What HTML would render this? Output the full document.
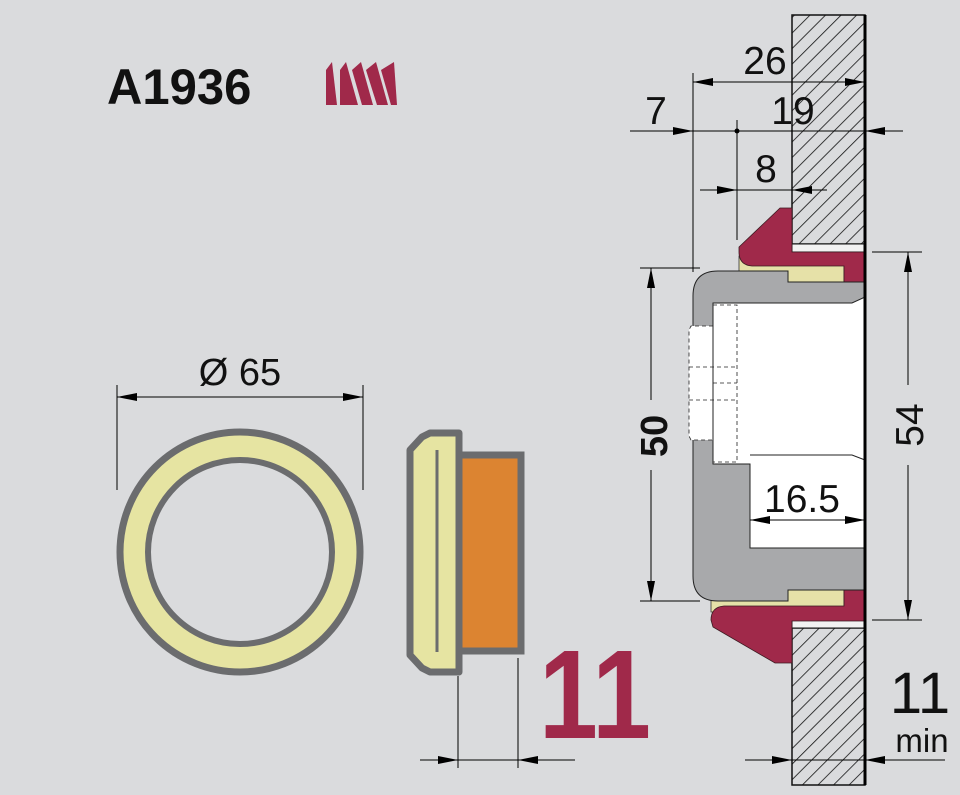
<!DOCTYPE html>
<html><head><meta charset="utf-8"><style>
html,body{margin:0;padding:0;background:#dadbdd;}
svg{display:block}
text{font-family:"Liberation Sans",sans-serif;fill:#111}
</style></head><body>
<svg width="960" height="795" viewBox="0 0 960 795" xmlns="http://www.w3.org/2000/svg">
<defs>
<pattern id="h" patternUnits="userSpaceOnUse" width="11" height="11" patternTransform="rotate(45)">
<rect width="11" height="11" fill="#dadbdd"/><line x1="0" y1="0" x2="0" y2="11" stroke="#111" stroke-width="1.6"/>
</pattern>
<marker id="a" viewBox="0 0 20 8" refX="20" refY="4" markerWidth="20" markerHeight="8" markerUnits="userSpaceOnUse" orient="auto"><path d="M0,0L20,4L0,8z" fill="#000"/></marker>
</defs>
<rect width="960" height="795" fill="#dadbdd"/>

<!-- title -->
<text x="0" y="104" font-size="50" font-weight="bold" transform="translate(107,0) scale(0.98,1)">A1936</text>
<g fill="#a0294a">
<polygon points="326,105 326,70 332,62 337,105"/>
<polygon points="340,105 340,70 346,62 358,105 "/>
<polygon points="352,70 361,62 373,105 362,105"/>
<polygon points="366,70 376,62 388,105 377,105"/>
<polygon points="381,70 394,62 397,105 391,105"/>
</g>

<!-- ring -->
<circle cx="240" cy="552" r="120" fill="#e6e4a2" stroke="#6b6c6e" stroke-width="7"/>
<circle cx="240" cy="552" r="92" fill="#dadbdd" stroke="#6b6c6e" stroke-width="6"/>
<line x1="117" y1="385" x2="117" y2="490" stroke="#000" stroke-width="1"/>
<line x1="363" y1="385" x2="363" y2="490" stroke="#000" stroke-width="1"/>
<line x1="240" y1="397" x2="117" y2="397" stroke="#000" marker-end="url(#a)"/>
<line x1="240" y1="397" x2="363" y2="397" stroke="#000" marker-end="url(#a)"/>
<text x="240" y="385" font-size="38" text-anchor="middle">Ø 65</text>

<!-- profile -->
<rect x="459" y="455" width="62" height="196" fill="#dc8431" stroke="#6b6c6e" stroke-width="7"/>
<path d="M430,433 L459,433 L459,672 L430,672 L422,668 L410,655 L410,450 L422,437 Z" fill="#e6e4a2" stroke="#6b6c6e" stroke-width="7" stroke-linejoin="round"/>
<line x1="437" y1="450" x2="437" y2="652" stroke="#6b6c6e" stroke-width="3"/>
<line x1="458" y1="676" x2="458" y2="768" stroke="#000"/>
<line x1="518" y1="658" x2="518" y2="768" stroke="#000"/>
<line x1="420" y1="760" x2="458" y2="760" stroke="#000" marker-end="url(#a)"/>
<line x1="458" y1="760" x2="518" y2="760" stroke="#000"/>
<line x1="575" y1="760" x2="518" y2="760" stroke="#000" marker-end="url(#a)"/>
<text x="0" y="738" font-size="126" font-weight="bold" text-anchor="middle" style="fill:#a0294a" transform="translate(595,0) scale(0.84,1)">11</text>

<!-- walls -->
<rect x="792" y="15" width="73" height="229" fill="url(#h)" stroke="#111" stroke-width="1.5"/>
<rect x="792" y="628" width="73" height="157" fill="url(#h)" stroke="#111" stroke-width="1.5"/>
<rect x="792" y="244" width="73" height="8" fill="#f2f2f2" stroke="#111" stroke-width="1"/>
<rect x="792" y="620" width="73" height="8" fill="#f2f2f2" stroke="#111" stroke-width="1"/>

<!-- beige -->
<path d="M739,256 L739,272 L788,272 L788,284 L844,284 L844,262 Z" fill="#e6e1a8" stroke="#333" stroke-width="0.8"/>
<path d="M711,612 L711,598 L788,598 L788,588 L844,588 L844,612 Z" fill="#e6e1a8" stroke="#333" stroke-width="0.8"/>
<!-- red seals -->
<path d="M780,208 L792,208 L792,252 L865,252 L865,282 L844,282 L844,266 L752,266 Q739,265 739,252 L739,247 Z" fill="#a0294a" stroke="#3a1a20" stroke-width="0.8"/>
<path d="M775,663 L792,663 L792,621 L865,621 L865,590 L844,590 L844,606 L724,606 Q711,607 711,620 L713,627 Z" fill="#a0294a" stroke="#3a1a20" stroke-width="0.8"/>

<!-- grey body -->
<path d="M718,271 L788,271 L788,282 L865,282 L865,590 L788,590 L788,601 L718,601 Q693,601 693,576 L693,296 Q693,271 718,271 Z" fill="#a8a9ab" stroke="#222" stroke-width="1"/>
<path d="M713,303 L852,303 L865,297 L865,548 L750,548 L750,464 L713,464 Z" fill="#fff" stroke="#222" stroke-width="1"/>
<path d="M750,455 L852,455 L865,460" fill="none" stroke="#222" stroke-width="1"/>
<path d="M713,326 L691,326 L689,330 L689,436 L691,440 L713,440 Z" fill="#fff" stroke="#222" stroke-width="0.8" stroke-dasharray="4,3"/>
<line x1="713" y1="326" x2="713" y2="440" stroke="#222" stroke-width="1"/>
<rect x="713" y="305" width="24" height="157" fill="none" stroke="#222" stroke-width="0.8" stroke-dasharray="4,3"/>
<g stroke="#222" stroke-width="0.8" stroke-dasharray="4,3"><line x1="689" y1="367" x2="737" y2="367"/><line x1="713" y1="383" x2="737" y2="383"/><line x1="689" y1="400" x2="737" y2="400"/></g>
<line x1="865" y1="15" x2="865" y2="785" stroke="#000" stroke-width="3"/>

<!-- dims -->
<g stroke="#000" stroke-width="1" fill="none">
<line x1="693" y1="73" x2="693" y2="272"/>
<line x1="737" y1="120" x2="737" y2="240"/>
<line x1="780" y1="82" x2="693" y2="82" marker-end="url(#a)"/>
<line x1="780" y1="82" x2="865" y2="82" marker-end="url(#a)"/>
<line x1="630" y1="131" x2="693" y2="131" marker-end="url(#a)"/>
<line x1="693" y1="131" x2="865" y2="131"/>
<line x1="903" y1="131" x2="865" y2="131" marker-end="url(#a)"/>
<line x1="700" y1="190" x2="737" y2="190" marker-end="url(#a)"/>
<line x1="737" y1="190" x2="792" y2="190"/>
<line x1="827" y1="190" x2="792" y2="190" marker-end="url(#a)"/>
<line x1="640" y1="268" x2="700" y2="268"/>
<line x1="640" y1="601" x2="700" y2="601"/>
<line x1="651" y1="400" x2="651" y2="268" marker-end="url(#a)"/>
<line x1="651" y1="470" x2="651" y2="601" marker-end="url(#a)"/>
<line x1="872" y1="252" x2="922" y2="252"/>
<line x1="872" y1="620" x2="922" y2="620"/>
<line x1="908" y1="385" x2="908" y2="252" marker-end="url(#a)"/>
<line x1="908" y1="465" x2="908" y2="620" marker-end="url(#a)"/>
<line x1="805" y1="520" x2="750" y2="520" marker-end="url(#a)"/>
<line x1="805" y1="520" x2="865" y2="520" marker-end="url(#a)"/>
<line x1="745" y1="760" x2="792" y2="760" marker-end="url(#a)"/>
<line x1="792" y1="760" x2="865" y2="760"/>
<line x1="945" y1="760" x2="865" y2="760" marker-end="url(#a)"/>
</g>
<circle cx="737" cy="131" r="2.5" fill="#000"/>
<text x="765" y="74" font-size="39" text-anchor="middle">26</text>
<text x="656" y="124" font-size="39" text-anchor="middle">7</text>
<text x="793" y="124" font-size="39" text-anchor="middle">19</text>
<text x="766" y="182" font-size="39" text-anchor="middle">8</text>
<text x="802" y="512" font-size="39" text-anchor="middle">16.5</text>
<text transform="translate(667,436) rotate(-90)" font-size="38" font-weight="bold" text-anchor="middle">50</text>
<text transform="translate(923,425) rotate(-90)" font-size="39" text-anchor="middle">54</text>
<text x="920" y="713" font-size="58" text-anchor="middle">11</text>
<text x="922" y="752" font-size="33" text-anchor="middle">min</text>
</svg>
</body></html>
